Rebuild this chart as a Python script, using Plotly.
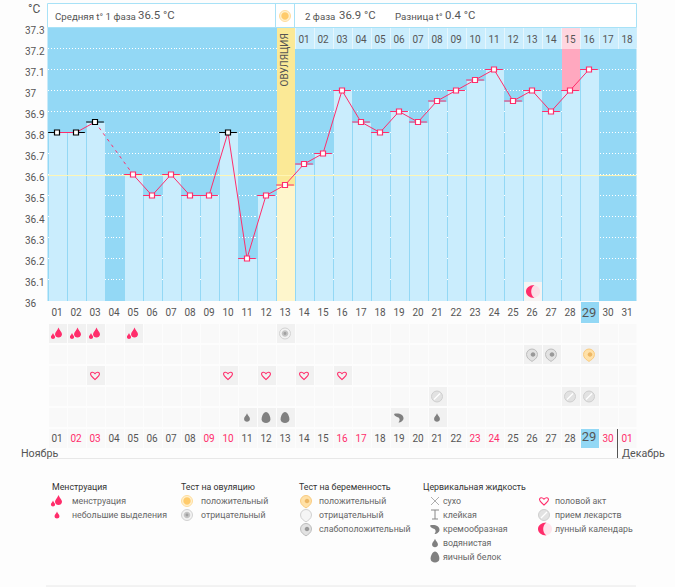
import re
import plotly.graph_objects as go

# ---------- data ----------
days = list(range(1, 32))
temps = [36.8, 36.8, 36.85, None, 36.6, 36.5, 36.6, 36.5, 36.5, 36.8, 36.2, 36.5, 36.55,
         36.65, 36.7, 37.0, 36.85, 36.8, 36.9, 36.85, 36.95, 37.0, 37.05, 37.1, 36.95,
         37.0, 36.9, 37.0, 37.1, None, None]
black_days = [1, 2, 3, 10]
ovulation_day = 13
peak_day = 28
peak_top = 37.2
today = 29
cover_value = 36.595
y_ticks = [36, 36.1, 36.2, 36.3, 36.4, 36.5, 36.6, 36.7, 36.8, 36.9, 37, 37.1, 37.2, 37.3]
y_labels = ["36", "36.1", "36.2", "36.3", "36.4", "36.5", "36.6", "36.7", "36.8", "36.9", "37", "37.1", "37.2", "37.3"]
cycle_days = list(range(14, 32))
cycle_labels = [f"{i:02d}" for i in range(1, 19)]
day_labels = [f"{d:02d}" for d in days]
bottom_labels = day_labels[:30] + ["01"]
pink_bottom = [2, 3, 9, 10, 16, 17, 23, 24, 30, 31]
moon_day = 26
menstruation_days = [1, 2, 3, 5]
ov_negative_days = [13]
preg_weak_days = [26, 27]
preg_positive_days = [29]
heart_days = [3, 10, 12, 14, 16]
pill_days = [21, 28, 29]
water_days = [11, 21]
egg_days = [12, 13]
cream_days = [19]

# ---------- style ----------
W, H = 675, 587
FONT = "Roboto"
BLUE = "#93D8F5"
PALE = "#CAEDFD"
PINK = "#FF2D6B"
TXT = "#555555"
px = lambda x: x / W
py = lambda y: 1 - y / H
ymin = 36 - 0.5 / 210

CIRC = "M 1 0 C 1 .552 .552 1 0 1 C -.552 1 -1 .552 -1 0 C -1 -.552 -.552 -1 0 -1 C .552 -1 1 -.552 1 0 Z"
DROP = "M 0 -1 C .2 -.4 .7 -.1 .7 .35 C .7 .75 .35 1 0 1 C -.35 1 -.7 .75 -.7 .35 C -.7 -.1 -.2 -.4 0 -1 Z"
EGG = "M 0 -1 C .45 -1 .8 -.2 .8 .3 C .8 .75 .4 1 0 1 C -.4 1 -.8 .75 -.8 .3 C -.8 -.2 -.45 -1 0 -1 Z"
HEART = "M 0 .9 C -.5 .4 -1 .1 -1 -.35 C -1 -.75 -.45 -.95 0 -.4 C .45 -.95 1 -.75 1 -.35 C 1 .1 .5 .4 0 .9 Z"
MOON = "M .3 -1 C -.5 -1 -1 -.5 -1 0 C -1 .5 -.5 1 .3 1 C -.1 .7 -.2 .3 -.2 0 C -.2 -.3 -.1 -.7 .3 -1 Z"
COMMA = "M -1 -.7 C -.2 -1 1 -.6 .9 .2 C .85 .7 .3 1 -.1 1 C .2 .6 .2 .2 -.1 0 C -.5 -.2 -.9 -.2 -1 -.7 Z"
SHIELD = "M 0 1.25 C -.3 1.05 -1 .7 -1 0 C -1 -.55 -.55 -1 0 -1 C .55 -1 1 -.55 1 0 C 1 .7 .3 1.05 0 1.25 Z"


def P(path, s=1.0, dx=0.0, dy=0.0):
    out, i = [], 0
    for t in re.findall(r"[MLCQZ]|-?[\d.]+", path):
        if t in "MLCQZ":
            out.append(t)
            i = 0
        else:
            v = float(t)
            out.append(f"{v * s + dx:.2f}" if i % 2 == 0 else f"{-(v * s + dy):.2f}")
            i += 1
    return " ".join(out)


ICONS = {
    "men": [(P(DROP, 5, 1.5, -1), PINK, None, 0), (P(DROP, 3, -4, 2.5), PINK, None, 0)],
    "spot": [(P(DROP, 3.5), PINK, None, 0)],
    "ov_pos": [(P(CIRC, 5.5), "#FFF1D0", "#FFDD9C", 1), (P(CIRC, 3.7), "#FFCB6B", None, 0)],
    "ov_neg": [(P(CIRC, 5.5), "#F3F3F3", "#D2D2D2", 1), (P(CIRC, 3.3), "#C4C4C4", None, 0), (P(CIRC, 1.4), "#A0A0A0", None, 0)],
    "preg_pos": [(P(SHIELD, 5.5), "#FFE1A8", "#F9CB80", 1), (P(CIRC, 2.3, 1, 0), "#EDB765", None, 0)],
    "preg_neg": [(P(SHIELD, 5.5), "#F5F5F5", "#D0D0D0", 1)],
    "preg_weak": [(P(SHIELD, 5.5), "#E2E2E2", "#BDBDBD", 1), (P(CIRC, 2.3, 1, 0), "#999999", None, 0)],
    "heart": [(P(HEART, 4.5), "rgba(255,255,255,0)", PINK, 1.1)],
    "pill": [(P(CIRC, 5.5), "#E2E2E2", "#CFCFCF", 1), ("M -3 -3 L 3 3", None, "#FFFFFF", 1.3)],
    "moon": [(P(CIRC, 6, 2, 0), "rgba(255,205,220,0.5)", None, 0), (P(MOON, 6.5, 0.5, 0), PINK, None, 0)],
    "cream": [(P(COMMA, 5), "#808080", None, 0)],
    "water": [(P(DROP, 4.2), "#808080", None, 0)],
    "egg": [(P(EGG, 5.5), "#808080", None, 0)],
    "dry": [("M -4 -4 L 4 4 M -4 4 L 4 -4", None, "#999999", 0.8)],
    "sticky": [("M -4 5 L 4 5 M 0 5 L 0 -4 M -3 -4 L 3 -4", None, "#888888", 1)],
}

shapes, annos = [], []


def icon(name, xanchor, yanchor, xref="x", yref="y2"):
    for path, fill, line, lw in ICONS[name]:
        s = dict(type="path", path=path, xref=xref, yref=yref, xsizemode="pixel", ysizemode="pixel",
                 xanchor=xanchor, yanchor=yanchor, layer="above", line=dict(width=lw, color=line or "rgba(0,0,0,0)"))
        if fill:
            s["fillcolor"] = fill
        shapes.append(s)


def text(s, x, y, size=11, color=TXT, anchor="left", **kw):
    annos.append(dict(text=s, x=px(x), y=py(y), xref="paper", yref="paper", xanchor=anchor, yanchor="middle",
                      showarrow=False, xshift=-2, font=dict(family=FONT, size=size, color=color), **kw))


def rect(x0, y0, x1, y1, fill, line=None, layer="below"):
    shapes.append(dict(type="rect", xref="paper", yref="paper", x0=px(x0), x1=px(x1), y0=py(y0), y1=py(y1),
                       fillcolor=fill, layer=layer, line=dict(width=1 if line else 0, color=line or "rgba(0,0,0,0)")))


def hline(x0, x1, y, color, width=1):
    shapes.append(dict(type="line", xref="paper", yref="paper", x0=px(x0), x1=px(x1), y0=py(y), y1=py(y),
                       layer="below", line=dict(color=color, width=width)))


fig = go.Figure()
BW = 18 / 19

# chart ground
rect(47.5, 27.5, 636.5, 301, BLUE)
# header
rect(47.5, 3.5, 636.5, 27.5, "#FFFFFF", "#A8E2F7", layer="above")
for xx in (275.5, 294.5):
    shapes.append(dict(type="line", xref="paper", yref="paper", x0=px(xx), x1=px(xx), y0=py(3.5), y1=py(27.5),
                       layer="above", line=dict(color="#A8E2F7", width=1)))

# temperature columns
plain = [d for d, t in zip(days, temps) if t is not None and d != ovulation_day]
fig.add_bar(x=plain, y=[temps[d - 1] - ymin for d in plain], base=ymin, width=BW, marker=dict(color=PALE, line_width=0))
# ovulation column
ov_t = temps[ovulation_day - 1]
fig.add_bar(x=[ovulation_day], y=[ov_t - ymin], base=ymin, width=BW, marker=dict(color="#FEF6CC", line_width=0))
fig.add_bar(x=[ovulation_day], y=[37.3 - ov_t], base=ov_t, width=BW, marker=dict(color="#FBE996", line_width=0))
# peak column
pk = temps[peak_day - 1]
fig.add_bar(x=[peak_day], y=[peak_top - pk], base=pk, width=BW, marker=dict(color="#FFA8BF", line_width=0))
# second-phase day strip
fig.add_bar(x=cycle_days, y=[0.1] * len(cycle_days), base=37.2, width=1, marker=dict(color="#E6F6FD", line_width=0))
fig.add_bar(x=cycle_days, y=[0.1] * len(cycle_days), base=37.2, width=BW,
            marker=dict(color=["#FFD6E0" if d == peak_day else PALE for d in cycle_days], line_width=0))
# moon cell
fig.add_bar(x=[moon_day], y=[0.09 + 36 - ymin], base=ymin, width=BW, marker=dict(color="#F5F3F3", line_width=0))

# calendar cells
cell_rows = [1, 2, 3, 4, 5, 6]
cx, cy = [], []
for r in cell_rows:
    for d in days:
        cx.append(d)
        cy.append(r)
fig.add_bar(x=cx, y=[0.9] * len(cx), base=[r - 0.45 for r in cy], width=BW, yaxis="y2",
            marker=dict(color="#F9F9F9", line_width=0))
active = [(d, 1) for d in menstruation_days + ov_negative_days] + [(d, 2) for d in preg_weak_days + preg_positive_days] + \
         [(d, 3) for d in heart_days] + [(d, 4) for d in pill_days] + [(d, 5) for d in water_days + egg_days + cream_days]
fig.add_bar(x=[a[0] for a in active], y=[0.9] * len(active), base=[a[1] - 0.45 for a in active], width=BW, yaxis="y2",
            marker=dict(color="#F1F1F1", line_width=0))
fig.add_bar(x=[today, today], y=[1, 0.9], base=[-0.5, 5.55], width=BW, yaxis="y2", marker=dict(color=BLUE, line_width=0))

# coverline
fig.add_scatter(x=[0.5, 31.5], y=[cover_value] * 2, mode="lines", line=dict(color="#FFF6B4", width=1), hoverinfo="skip")

# temperature ticks
tick_pink = [d for d in days if temps[d - 1] is not None and d not in black_days]
tick_blk = [d for d in black_days]
for ds, col in ((tick_pink, PINK), (tick_blk, "#000000")):
    fig.add_scatter(x=ds, y=[temps[d - 1] for d in ds], mode="markers",
                    marker=dict(symbol="line-ew", size=12.7, line=dict(color=col, width=1)), hoverinfo="skip")
# gap connector(s)
for i in range(1, len(temps) - 1):
    if temps[i] is None and temps[i - 1] is not None and temps[i + 1] is not None:
        fig.add_scatter(x=[days[i - 1], days[i + 1]], y=[temps[i - 1], temps[i + 1]], mode="lines",
                        line=dict(color=PINK, width=1, dash="3px,4px"), hoverinfo="skip")
# main line
fig.add_scatter(x=days, y=temps, mode="lines+markers", connectgaps=False, line=dict(color=PINK, width=1),
                marker=dict(symbol="square", size=5, color="#FFFFFF",
                            line=dict(width=1.2, color=["#000000" if d in black_days else PINK for d in days])),
                hoverinfo="skip")

# second-phase labels
fig.add_scatter(x=cycle_days, y=[37.236] * len(cycle_days), text=cycle_labels, mode="text",
                textfont=dict(family=FONT, size=10, color=TXT), hoverinfo="skip")
# date rows
fig.add_scatter(x=days, y=[0.07] * 31, text=day_labels, mode="text", yaxis="y2",
                textfont=dict(family=FONT, size=[13 if d == today else 10 for d in days], color=TXT), hoverinfo="skip")
fig.add_scatter(x=days, y=[6.07 if d != today else 5.95 for d in days], text=bottom_labels, mode="text", yaxis="y2",
                textfont=dict(family=FONT, size=[13 if d == today else 10 for d in days],
                              color=[PINK if d in pink_bottom else TXT for d in days]), hoverinfo="skip")

# y-axis labels
for v, s in zip(y_ticks, y_labels):
    annos.append(dict(text=s, x=px(25), xref="paper", xanchor="left", y=v, yref="y", yanchor="middle", yshift=-3, xshift=-2,
                      showarrow=False, font=dict(family=FONT, size=10, color=TXT)))
text("°C", 28, 9, size=12)

# header text
text("Средняя t° 1 фаза", 54.5, 16, size=9.7)
text("36.5 °C", 138, 15.5, size=11.4)
text("2 фаза", 305, 16, size=9.7)
text("36.9 °C", 339, 15.5, size=11.4)
text("Разница t°", 395, 16, size=9.7)
text("0.4 °C", 445, 15.5, size=11.4)
icon("ov_pos", px(285), py(16), "paper", "paper")
annos.append(dict(text="ОВУЛЯЦИЯ", x=px(284.5), y=py(60), xref="paper", yref="paper", textangle=-90, showarrow=False,
                  xanchor="center", yanchor="middle", font=dict(family=FONT, size=10, color=TXT)))

# calendar icons
icon("moon", moon_day, ymin + 0.045, "x", "y")
for d in menstruation_days:
    icon("men", d, 1)
for d in ov_negative_days:
    icon("ov_neg", d, 1)
for d in preg_weak_days:
    icon("preg_weak", d, 2)
for d in preg_positive_days:
    icon("preg_pos", d, 2)
for d in heart_days:
    icon("heart", d, 3)
for d in pill_days:
    icon("pill", d, 4)
for d in water_days:
    icon("water", d, 5)
for d in egg_days:
    icon("egg", d, 5)
for d in cream_days:
    icon("cream", d, 5)

# month labels and rules
text("Ноябрь", 21, 453, size=10.7)
text("Декабрь", 622, 453.5, size=10.7)
hline(47, 636, 458.5, "#E8E8E8")
hline(46, 636, 586, "#E8E8E8")
shapes.append(dict(type="line", xref="paper", yref="paper", x0=px(617.5), x1=px(617.5), y0=py(429), y1=py(458),
                   layer="above", line=dict(color="#555555", width=1)))

# legend
LT = "#333333"
LI = "#666666"
LS = 8.8
text("Менструация", 52, 487, size=LS, color=LT)
icon("men", px(57), py(501), "paper", "paper")
text("менструация", 72, 501, size=LS, color=LI)
icon("spot", px(57), py(515), "paper", "paper")
text("небольшие выделения", 72, 515, size=LS, color=LI)
text("Тест на овуляцию", 181, 487, size=LS, color=LT)
icon("ov_pos", px(187), py(501), "paper", "paper")
text("положительный", 201, 501, size=LS, color=LI)
icon("ov_neg", px(187), py(515), "paper", "paper")
text("отрицательный", 201, 515, size=LS, color=LI)
text("Тест на беременность", 299, 487, size=LS, color=LT)
icon("preg_pos", px(306), py(501), "paper", "paper")
text("положительный", 319, 501, size=LS, color=LI)
icon("preg_neg", px(306), py(515), "paper", "paper")
text("отрицательный", 319, 515, size=LS, color=LI)
icon("preg_weak", px(306), py(529), "paper", "paper")
text("слабоположительный", 319, 529, size=LS, color=LI)
text("Цервикальная жидкость", 423, 487, size=LS, color=LT)
for nm, lab, yy in (("dry", "сухо", 501), ("sticky", "клейкая", 515), ("cream", "кремообразная", 529),
                    ("water", "водянистая", 543), ("egg", "яичный белок", 557)):
    icon(nm, px(435), py(yy), "paper", "paper")
    text(lab, 443, yy, size=LS, color=LI)
for nm, lab, yy in (("heart", "половой акт", 501), ("pill", "прием лекарств", 515), ("moon", "лунный календарь", 529)):
    icon(nm, px(544), py(yy), "paper", "paper")
    text(lab, 555, yy, size=LS, color=LI)

fig.update_layout(
    width=W, height=H, autosize=False, margin=dict(l=0, r=0, t=0, b=0),
    paper_bgcolor="#FDFDFD", plot_bgcolor="rgba(0,0,0,0)", showlegend=False, barmode="overlay", bargap=0,
    shapes=shapes, annotations=annos,
    xaxis=dict(domain=[px(47.5), px(636.5)], range=[0.5, 31.5], visible=False, fixedrange=True),
    yaxis=dict(domain=[py(301), py(27.5)], range=[ymin, 37.3], tickvals=y_ticks, showticklabels=False, ticks="",
               showgrid=True, gridcolor="#FFFFFF", gridwidth=1, griddash="1px,2px", zeroline=False, showline=False, fixedrange=True),
    yaxis2=dict(domain=[py(449), py(302)], range=[6.5, -0.5], visible=False, anchor="x", fixedrange=True),
)

fig.write_html("out.html", config=dict(displayModeBar=False),
               post_script="document.body.style.margin='0';document.body.style.overflow='hidden';")
